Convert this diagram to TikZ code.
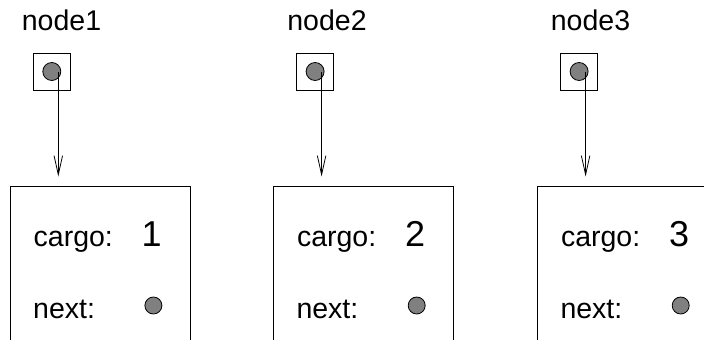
\documentclass[tikz,border=0pt]{standalone}
\usepackage{fontspec}
\setmainfont{Liberation Sans}
\usetikzlibrary{arrows.meta}

\tikzset{
  lab/.style={inner sep=0pt, font=\fontsize{28.5bp}{30bp}\selectfont},
  val/.style={inner sep=0pt, font=\fontsize{36bp}{38bp}\selectfont},
  ptrbox/.style={draw, line width=0.8bp, minimum width=37bp, minimum height=37bp, inner sep=0pt},
  objbox/.style={draw, line width=0.8bp, minimum width=180bp, minimum height=220bp, inner sep=0pt, anchor=north},
  dot/.style={circle, draw, fill=black!50, line width=0.8bp, inner sep=0pt},
  ptr/.style={line width=0.8bp, -{Straight Barb[length=19bp,width=8.5bp]}, shorten >=9.5bp}
}

\begin{document}
\begin{tikzpicture}[x=1bp, y=1bp]
\useasboundingbox (0,0) rectangle (704,339);
\clip (0,0) rectangle (704,339);

\foreach \i/\L/\c in {1/10/51.5, 2/273.3/53.7, 3/537.3/53.2} {
  % variable name above the reference box
  \node[lab, anchor=base] (n\i lab) at (\L+\c, 309) {node\i};
  % reference box holding the pointer
  \node[ptrbox] (n\i ptr) at (\L+41.8, 267.5) {};
  \node[dot, minimum size=18bp] (n\i dot) at (n\i ptr.center) {};
  % the node object itself (open at the bottom)
  \node[objbox] (n\i box) at (\L+90, 153) {};
  \node[lab, anchor=base west] (n\i cargo) at (\L+23.5, 92.3) {cargo:};
  \node[val, anchor=base west] (n\i val) at (\L+131.5, 92.3) {\i};
  \node[lab, anchor=base west] (n\i next) at (\L+23, 21) {next:};
  \node[dot, minimum size=17bp] (n\i nextdot) at (\L+143.4, 33.5) {};
  % pointer arrow
  \coordinate (n\i tail) at ([xshift=6.5bp]n\i dot.center);
  \draw[ptr] (n\i tail) -- (n\i tail |- n\i box.north);
}
\end{tikzpicture}
\end{document}
